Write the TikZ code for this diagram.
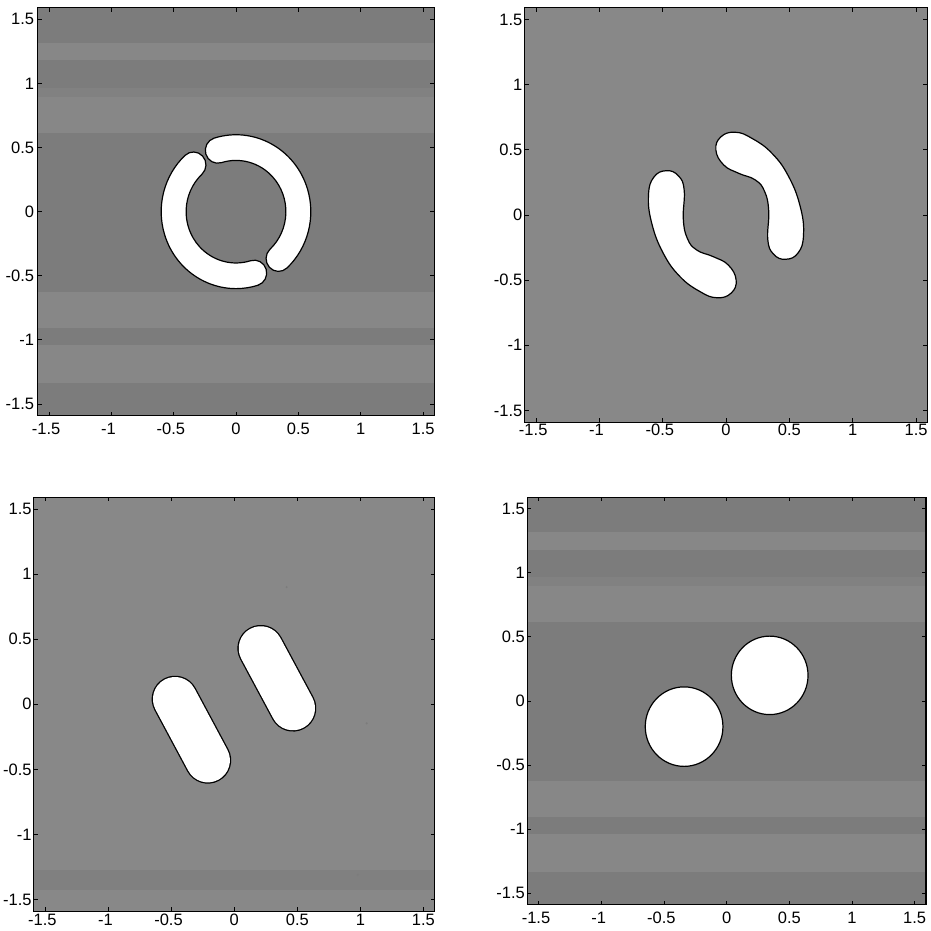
\documentclass[tikz,border=0pt]{standalone}
\usepackage{fontspec}
\setmainfont{Liberation Sans}
\definecolor{bgdark}{HTML}{7C7C7C}
\definecolor{bglight}{HTML}{878787}
\definecolor{bgmid}{HTML}{818181}
\definecolor{bgplain}{HTML}{888888}
\definecolor{bgband}{HTML}{808080}
\tikzset{
  frame/.style={draw=black, line width=1.2pt},
  tickmark/.style={draw=black, line width=0.9pt},
  lab/.style={inner sep=0pt, font=\fontsize{16.5}{18}\selectfont},
  blobline/.style={draw=black, fill=white, line width=1.2pt},
}
\newcommand{\myaxes}[2]{%
  \draw[frame] (-1.59,-1.59) rectangle (1.59,1.59);
  \foreach \v/\t in {-1.5/\llap{-}1.5, -1/\llap{-}1, -0.5/\llap{-}0.5, 0/0, 0.5/0.5, 1/1, 1.5/1.5} {
    \draw[tickmark] (\v,-1.59) -- ++(0,4pt);
    \draw[tickmark] (\v,1.59) -- ++(0,-4pt);
    \draw[tickmark] (-1.59,\v) -- ++(4pt,0);
    \draw[tickmark] (1.59,\v) -- ++(-4pt,0);
    \node[lab,anchor=north] at ([yshift=-#2pt]\v,-1.59) {\t};
    \node[lab,anchor=east] at ([xshift=-#1pt]-1.59,\v) {\t};
  }
}
\newcommand{\stripes}{%
  \fill[bgdark] (-1.59,-1.59) rectangle (1.59,1.59);
  \foreach \a/\b in {1.18/1.315, 0.614/0.894, -0.907/-0.626, -1.336/-1.04}
    \fill[bglight] (-1.59,\a) rectangle (1.59,\b);
  \fill[bgmid] (-1.59,0.894) rectangle (1.59,0.965);
}
\newcommand{\bentblob}{%
  \draw[blobline] plot[smooth cycle, tension=0.75] coordinates {
    (-0.470,0.340) (-0.375,0.300) (-0.330,0.190) (-0.337,-0.030)
    (-0.305,-0.180) (-0.231,-0.269) (-0.100,-0.320) (0.018,-0.384)
    (0.080,-0.499) (0.040,-0.600) (-0.073,-0.635) (-0.205,-0.588)
    (-0.363,-0.473) (-0.495,-0.294) (-0.586,-0.064) (-0.612,0.150)
    (-0.570,0.290)};
}
\begin{document}
\begin{tikzpicture}[x=1pt,y=1pt]
\useasboundingbox[fill=white] (0,0) rectangle (931,931);

% ---------- panel 1: split ring ----------
\begin{scope}[shift={(236pt,719.3pt)}, x=124.7pt, y=128.2pt]
  \stripes
  \draw[blobline] (107:0.6) arc[start angle=107, end angle=-47, radius=0.6]
     arc[start angle=-47, end angle=-227, radius=0.1]
     arc[start angle=-47, end angle=107, radius=0.4]
     arc[start angle=287, end angle=107, radius=0.1] -- cycle;
  \draw[blobline] (-73:0.6) arc[start angle=-73, end angle=-227, radius=0.6]
     arc[start angle=-227, end angle=-407, radius=0.1]
     arc[start angle=-227, end angle=-73, radius=0.4]
     arc[start angle=107, end angle=-73, radius=0.1] -- cycle;
  \myaxes{3.5}{7}
\end{scope}

% ---------- panel 2: two bent pieces ----------
\begin{scope}[shift={(726pt,716pt)}, x=126.7pt, y=130.3pt]
  \fill[bgplain] (-1.59,-1.59) rectangle (1.59,1.59);
  \bentblob
  \begin{scope}[rotate=180]
    \bentblob
  \end{scope}
  \myaxes{2}{1.5}
\end{scope}

% ---------- panel 3: two capsules ----------
\begin{scope}[shift={(234.3pt,226.7pt)}, x=126.1pt, y=130.2pt]
  \fill[bgplain] (-1.59,-1.59) rectangle (1.59,1.59);
  \fill[bgband] (-1.59,-1.43) rectangle (1.59,-1.27);
  \foreach \p in {(0.415,0.9), (1.05,-0.146), (0.98,-1.31)}
    \fill[bgdark] \p circle[radius=1.2pt];
  \foreach \w/\c in {46.8/black, 44.2/white} {
    \draw[line width=\w pt, line cap=round, \c] (-0.47,0.04) -- (-0.21,-0.43);
    \draw[line width=\w pt, line cap=round, \c] (0.21,0.43) -- (0.465,-0.03);
  }
  \myaxes{2}{2.7}
\end{scope}

% ---------- panel 4: two discs ----------
\begin{scope}[shift={(726.7pt,230pt)}, x=125.3pt, y=128.2pt]
  \stripes
  \draw[blobline] (-0.34,-0.2) circle[radius=0.31];
  \draw[blobline] (0.343,0.2) circle[radius=0.306];
  \myaxes{2.5}{7}
\end{scope}
\end{tikzpicture}
\end{document}
